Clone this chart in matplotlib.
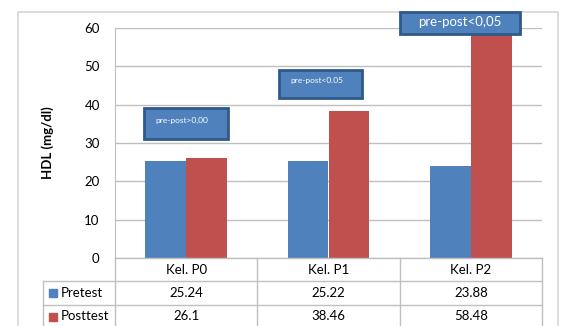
import matplotlib
matplotlib.use("Agg")
from matplotlib import pyplot as plt
from matplotlib.patches import Rectangle
from matplotlib.transforms import blended_transform_factory
from matplotlib.lines import Line2D

# data
kelompok = ["Kel. P0", "Kel. P1", "Kel. P2"]
pretest = [25.24, 25.22, 23.88]
posttest = [26.1, 38.46, 58.48]
label_pre = ["25.24", "25.22", "23.88"]
label_post = ["26.1", "38.46", "58.48"]
catatan = ["pre-post>0,00", "pre-post<0.05", "pre-post<0,05"]

BIRU = "#4F81BD"
MERAH = "#C0504D"
GARIS = "#BFBFBF"
KOTAK = "#2F5A8A"

W, H = 561, 326
plt.rcParams['font.family'] = ['Lato', 'DejaVu Sans']

fig = plt.figure(figsize=(W / 100, H / 100), dpi=100)

def fx(px):
    return px / W

def fy(py):
    return 1 - py / H

# outer chart border
fig.add_artist(Rectangle((fx(18), fy(340)), fx(558) - fx(18), fy(12) - fy(340),
                         transform=fig.transFigure, fill=False,
                         edgecolor="#D4D4D4", lw=1.2, zorder=0))

ax = fig.add_axes([fx(115), fy(258), fx(542) - fx(115), fy(28) - fy(258)])
x = list(range(len(kelompok)))
lebar = 0.286
ax.bar([i - lebar / 2 for i in x], pretest, lebar, color=BIRU, zorder=3)
ax.bar([i + lebar / 2 for i in x], posttest, lebar, color=MERAH, zorder=3)
ax.set_xlim(-0.5, 2.5)
ax.set_ylim(0, 60)
ax.set_yticks(range(0, 61, 10))
ax.set_xticks([])
ax.tick_params(axis="y", length=0, pad=11, labelsize=9.5)
ax.yaxis.grid(True, color=GARIS, lw=1, zorder=0)
for s in ["top", "right", "bottom"]:
    ax.spines[s].set_visible(False)
ax.spines["left"].set_color(GARIS)
ax.set_ylabel("HDL (mg/dl)", fontsize=9.5, fontweight="bold", labelpad=22)

# annotation boxes (x0, x1, y0, y1 in data units)
kotak_pos = [(-0.296, 0.292, 31.0, 39.2), (0.652, 1.235, 41.8, 49.05),
             (1.502, 2.345, 58.44, 64.1)]
ukuran = [6, 6, 9.5]
for (x0, x1, y0, y1), teks, fs in zip(kotak_pos, catatan, ukuran):
    ax.add_patch(Rectangle((x0, y0), x1 - x0, y1 - y0, facecolor=BIRU,
                           edgecolor=KOTAK, lw=2, zorder=5, clip_on=False))
    if fs < 8:
        ax.text(x0 + 0.08, (y0 + y1) / 2 + 0.8, teks, color="white",
                fontsize=fs, va="center", ha="left", zorder=6)
    else:
        ax.text((x0 + x1) / 2, (y0 + y1) / 2 + 0.3, teks, color="white",
                fontsize=fs, va="center", ha="center", zorder=6)

# data table under the axis
tr = blended_transform_factory(ax.transData, fig.transFigure)
for yy in [281, 305]:
    fig.add_artist(Line2D([fx(43), fx(542)], [fy(yy), fy(yy)], color=GARIS, lw=1))
fig.add_artist(Line2D([fx(115), fx(542)], [fy(258), fy(258)], color=GARIS, lw=1))
for xx in [-0.5, 0.5, 1.5, 2.5]:
    fig.add_artist(Line2D([xx, xx], [fy(258), fy(330)], color=GARIS, lw=1, transform=tr))
fig.add_artist(Line2D([fx(43), fx(43)], [fy(281), fy(330)], color=GARIS, lw=1))

for i, k in enumerate(kelompok):
    fig.text(i, fy(270), k, transform=tr, ha="center", va="center", fontsize=9.5)
    fig.text(i, fy(293), label_pre[i], transform=tr, ha="center", va="center", fontsize=9.5)
    fig.text(i, fy(316.5), label_post[i], transform=tr, ha="center", va="center", fontsize=9.5)

for nama, warna, yy in [("Pretest", BIRU, 293), ("Posttest", MERAH, 316.5)]:
    fig.add_artist(Rectangle((fx(49), fy(yy + 4)), fx(57) - fx(49), fy(yy - 4) - fy(yy + 4),
                             transform=fig.transFigure, color=warna))
    fig.text(fx(61), fy(yy), nama, ha="left", va="center", fontsize=9.5)

fig.savefig("out.png", dpi=100)
